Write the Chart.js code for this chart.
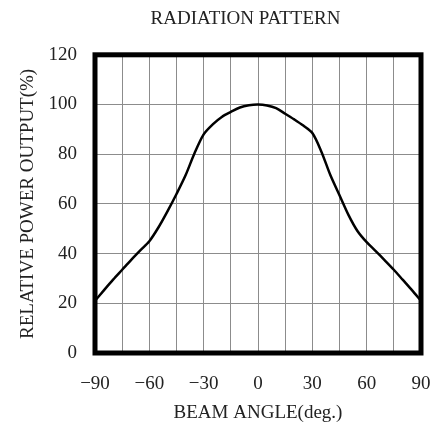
<!DOCTYPE html>
<html>
<head>
<meta charset="utf-8">
<script src="https://cdn.jsdelivr.net/npm/chart.js@4"></script>
<style>
  html, body { margin: 0; padding: 0; background: #fff; }
  #wrap { width: 439px; height: 429px; }
</style>
</head>
<body>
<div id="wrap"><canvas id="chart" width="439" height="429"></canvas></div>
<script>
// beam angle (deg) and relative power output (%)
const angles = [-90, -85, -80, -75, -70, -65, -60, -55, -50, -45, -40, -35, -30, -25, -20, -15, -10, -5,
                0, 5, 10, 15, 20, 25, 30, 35, 40, 45, 50, 55, 60, 65, 70, 75, 80, 85, 90];
const power = [21, 25.3, 29.5, 33.5, 37.5, 41.3, 45, 50.5, 57, 64, 71.5, 80.5, 88, 92, 95, 97, 98.8, 99.7,
               100, 99.6, 98.5, 96.3, 94, 91.5, 88.5, 81, 71.5, 63.5, 55.5, 49, 44.6, 41, 37.3, 33.5, 29.4, 25.3, 21];
const xTickLabels = [-90, -60, -30, 0, 30, 60, 90];
const yTickLabels = [0, 20, 40, 60, 80, 100, 120];

const serif = "'Liberation Serif', 'DejaVu Serif', serif";

// thick black frame round the plot area
const framePlugin = {
    id: 'frame',
    afterLayout(chart) {
        // the title in the original sits a bit right of the canvas middle
        if (chart.titleBlock) chart.titleBlock.left += 70;
    },
    afterDatasetsDraw(chart) {
        const { ctx, chartArea } = chart;
        ctx.save();
        ctx.strokeStyle = '#000';
        ctx.lineWidth = 5;
        ctx.strokeRect(chartArea.left, chartArea.top, chartArea.right - chartArea.left, chartArea.bottom - chartArea.top);
        ctx.restore();
    }
};

new Chart(document.getElementById('chart'), {
    type: 'line',
    data: {
        datasets: [{
            data: angles.map((a, i) => ({ x: a, y: power[i] })),
            borderColor: '#000',
            borderWidth: 2.5,
            pointRadius: 0,
            tension: 0.3,
            fill: false
        }]
    },
    options: {
        responsive: false,
        animation: false,
        layout: { padding: { left: 0, right: 18, top: 0, bottom: 0 } },
        plugins: {
            legend: { display: false },
            tooltip: { enabled: false },
            title: {
                display: true,
                text: 'RADIATION PATTERN',
                color: '#222',
                font: { family: serif, size: 19, weight: 'normal' },
                padding: { top: 8, bottom: 24 }
            }
        },
        scales: {
            x: {
                type: 'linear',
                min: -90,
                max: 90,
                afterFit(scale) {
                    scale.height = 76;
                    // edge labels may hang over the frame, the layout padding covers them
                    scale.paddingLeft = 0;
                    scale.paddingRight = 0;
                },
                ticks: {
                    stepSize: 15,
                    autoSkip: false,
                    maxRotation: 0,
                    padding: 20,
                    color: '#222',
                    font: { family: serif, size: 19 },
                    callback: v => xTickLabels.includes(v) ? String(v).replace('-', '\u2212') : ''
                },
                grid: { color: '#8c8c8c', lineWidth: 1, drawTicks: false },
                border: { display: false },
                title: {
                    display: true,
                    text: 'BEAM ANGLE(deg.)',
                    color: '#222',
                    font: { family: serif, size: 19 },
                    padding: { top: 0, bottom: 5 }
                }
            },
            y: {
                min: 0,
                max: 120,
                afterFit(scale) { scale.width = 95; },
                ticks: {
                    stepSize: 20,
                    padding: 18,
                    color: '#222',
                    font: { family: serif, size: 19 },
                    callback: v => yTickLabels.includes(v) ? v : ''
                },
                grid: { color: '#8c8c8c', lineWidth: 1, drawTicks: false },
                border: { display: false },
                title: {
                    display: true,
                    text: 'RELATIVE POWER OUTPUT(%)',
                    color: '#222',
                    font: { family: serif, size: 19 },
                    padding: { top: 17, bottom: 0 }
                }
            }
        }
    },
    plugins: [framePlugin]
});
</script>
</body>
</html>
